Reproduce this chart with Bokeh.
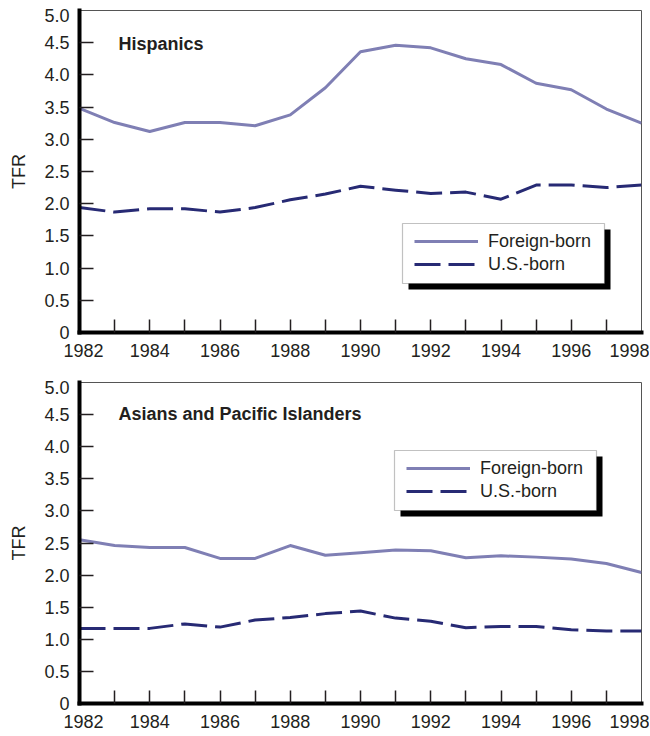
from bokeh.plotting import figure
from bokeh.models import Range1d, FixedTicker, Legend, LegendItem, BoxAnnotation, Label
from bokeh.layouts import column
from bokeh.embed import file_html
from bokeh.resources import INLINE

# ---------------- data ----------------
years = list(range(1982, 1999))

hisp_foreign = [3.48, 3.26, 3.12, 3.26, 3.26, 3.21, 3.38, 3.80, 4.36, 4.46,
                4.42, 4.25, 4.16, 3.87, 3.77, 3.47, 3.25]
hisp_us = [1.94, 1.87, 1.92, 1.92, 1.87, 1.94, 2.06, 2.15, 2.27, 2.21,
           2.16, 2.18, 2.07, 2.29, 2.29, 2.25, 2.29]

api_foreign = [2.55, 2.46, 2.43, 2.43, 2.26, 2.26, 2.46, 2.31, 2.35, 2.39,
               2.38, 2.27, 2.30, 2.28, 2.25, 2.18, 2.04]
api_us = [1.17, 1.17, 1.17, 1.24, 1.19, 1.30, 1.34, 1.40, 1.44, 1.33,
          1.28, 1.18, 1.20, 1.20, 1.15, 1.13, 1.13]

panel_titles = ["Hispanics", "Asians and Pacific Islanders"]
series_labels = ["Foreign-born", "U.S.-born"]

y_ticks = [0, 0.5, 1.0, 1.5, 2.0, 2.5, 3.0, 3.5, 4.0, 4.5, 5.0]
y_tick_labels = ["0", "0.5", "1.0", "1.5", "2.0", "2.5", "3.0", "3.5", "4.0", "4.5", "5.0"]
x_label_years = [1982, 1984, 1986, 1988, 1990, 1992, 1994, 1996, 1998]
x_tick_labels = [str(y) for y in x_label_years]

# ---------------- style ----------------
FONT = "Liberation Sans"
TEXT = "#231f20"
FB_COLOR = "#7f7fb4"
US_COLOR = "#272a74"
FRAME_W = 562
X0, X1 = 1982, 1998
Y0, Y1 = 0, 5


def make_panel(title, fb, us, frame_h, b_top, b_bottom, x_standoff, box_px, title_dy):
    p = figure(frame_width=FRAME_W, frame_height=frame_h,
               min_border_left=79, min_border_right=8,
               min_border_top=b_top, min_border_bottom=b_bottom,
               x_range=Range1d(X0, X1), y_range=Range1d(Y0, Y1),
               output_backend="svg", toolbar_location=None)
    p.grid.visible = False
    p.background_fill_color = "white"
    p.border_fill_color = "white"
    p.outline_line_color = "#555555"
    p.outline_line_width = 1

    xpp = (X1 - X0) / FRAME_W          # data units per pixel, x
    ypp = (Y1 - Y0) / frame_h          # data units per pixel, y

    def fx(px):   # frame px from left -> data x
        return X0 + px * xpp

    def fy(px):   # frame px from top -> data y
        return Y1 - px * ypp

    # ---- x axis ----
    xa = p.xaxis[0]
    x_pos = list(x_label_years)
    x_pos[0] = X0 + 4 * xpp
    x_pos[-1] = X1 - 12 * xpp
    xa.ticker = FixedTicker(ticks=x_pos, minor_ticks=years[1:-1])
    xa.major_label_overrides = {pos: lab for pos, lab in zip(x_pos, x_tick_labels)}
    xa.major_tick_in = 0
    xa.major_tick_out = 0
    xa.major_tick_line_color = None
    xa.minor_tick_in = 13
    xa.minor_tick_out = 0
    xa.minor_tick_line_width = 1.5
    xa.minor_tick_line_color = TEXT
    xa.axis_line_width = 4
    xa.axis_line_color = "black"
    xa.axis_line_cap = "square"
    xa.major_label_standoff = x_standoff
    xa.major_label_text_font = FONT
    xa.major_label_text_font_size = "18px"
    xa.major_label_text_color = TEXT

    # ---- y axis ----
    ya = p.yaxis[0]
    y_pos = list(y_ticks)
    y_pos[-1] = Y1 - 5 * ypp
    ya.ticker = FixedTicker(ticks=y_pos, minor_ticks=y_ticks[1:-1])
    ya.major_label_overrides = {pos: lab for pos, lab in zip(y_pos, y_tick_labels)}
    ya.major_tick_in = 0
    ya.major_tick_out = 0
    ya.major_tick_line_color = None
    ya.minor_tick_in = 14
    ya.minor_tick_out = 0
    ya.minor_tick_line_width = 1.5
    ya.minor_tick_line_color = TEXT
    ya.axis_line_width = 4
    ya.axis_line_color = "black"
    ya.axis_line_cap = "square"
    ya.major_label_standoff = 10
    ya.major_label_text_font = FONT
    ya.major_label_text_font_size = "18px"
    ya.major_label_text_color = TEXT
    ya.axis_label = "TFR"
    ya.axis_label_standoff = 12
    ya.axis_label_text_font = FONT
    ya.axis_label_text_font_size = "18px"
    ya.axis_label_text_font_style = "normal"
    ya.axis_label_text_color = TEXT

    # ---- lines ----
    r_fb = p.line(years, fb, line_color=FB_COLOR, line_width=3, line_join="round")
    r_us = p.line(years, us, line_color=US_COLOR, line_width=3, line_dash="26 8",
                  line_join="round")

    # ---- title ----
    p.add_layout(Label(x=fx(39), y=fy(title_dy), text=title, text_font=FONT,
                       text_font_style="bold", text_font_size="18px",
                       text_baseline="middle", text_align="left", text_color=TEXT))

    # ---- legend box with shadow ----
    bl, bt, bw, bh = box_px
    sh = 6
    p.add_layout(BoxAnnotation(left=fx(bl + sh), right=fx(bl + bw + sh),
                               top=fy(bt + sh), bottom=fy(bt + bh + sh),
                               fill_color="black", fill_alpha=1, line_color=None))
    p.add_layout(BoxAnnotation(left=fx(bl), right=fx(bl + bw),
                               top=fy(bt), bottom=fy(bt + bh),
                               fill_color="white", fill_alpha=1,
                               line_color="#333333", line_width=1.2))
    item_h = 22
    leg_top = bt + 18 - item_h / 2
    leg_h = 2 * item_h + 1
    legend = Legend(items=[LegendItem(label=series_labels[0], renderers=[r_fb]),
                           LegendItem(label=series_labels[1], renderers=[r_us])],
                    location=(bl + 12, frame_h - (leg_top + leg_h)),
                    padding=0, margin=0, spacing=1,
                    glyph_width=64, glyph_height=item_h, label_height=item_h,
                    label_standoff=10,
                    background_fill_alpha=0, border_line_alpha=0,
                    label_text_font=FONT, label_text_font_size="18px",
                    label_text_color=TEXT)
    p.add_layout(legend)
    return p


top = make_panel(panel_titles[0], hisp_foreign, hisp_us,
                 frame_h=322, b_top=10, b_bottom=40, x_standoff=11,
                 box_px=(323, 213, 202, 60), title_dy=33)
bottom = make_panel(panel_titles[1], api_foreign, api_us,
                    frame_h=321, b_top=10, b_bottom=32, x_standoff=11,
                    box_px=(315, 68, 202, 60), title_dy=31)

layout = column(top, bottom, spacing=0)
open("out.html", "w").write(file_html(layout, INLINE))
